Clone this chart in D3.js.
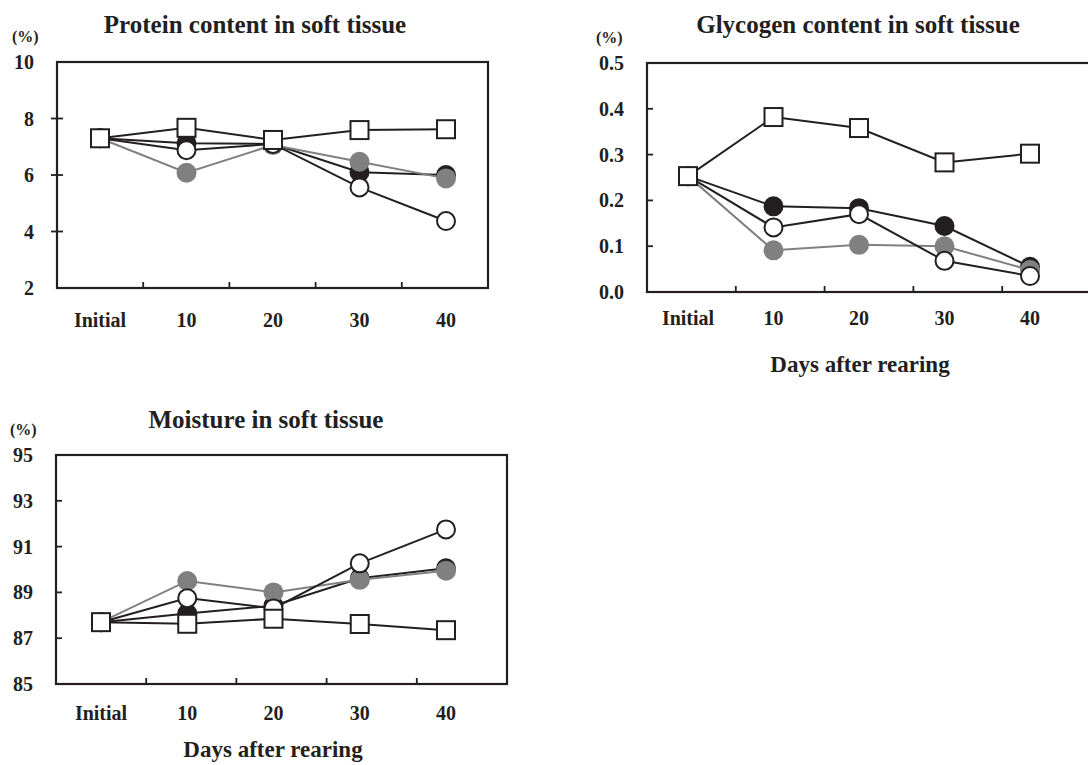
<!DOCTYPE html>
<html>
<head>
<meta charset="utf-8">
<script src="https://cdn.jsdelivr.net/npm/d3@7/dist/d3.min.js"></script>
<style>
  html, body { margin: 0; padding: 0; background: #fff; }
  svg { display: block; }
  text { font-family: "Liberation Serif", "Times New Roman", serif; font-weight: bold; fill: #231f20; }
</style>
</head>
<body>
<svg id="chart" width="1088" height="765"></svg>
<script>
// ---- Data ----
const categories = ["Initial", "10", "20", "30", "40"];

const proteinSquare = [7.30, 7.67, 7.24, 7.59, 7.62];
const proteinBlack  = [7.30, 7.12, 7.10, 6.10, 6.00];
const proteinOpen   = [7.30, 6.88, 7.10, 5.56, 4.37];
const proteinGray   = [7.30, 6.08, 7.06, 6.47, 5.88];
const proteinTicks  = [2, 4, 6, 8, 10];

const glycogenSquare = [0.253, 0.382, 0.358, 0.283, 0.302];
const glycogenBlack  = [0.253, 0.187, 0.183, 0.144, 0.055];
const glycogenOpen   = [0.253, 0.141, 0.170, 0.068, 0.035];
const glycogenGray   = [0.253, 0.091, 0.103, 0.100, 0.048];
const glycogenTicks  = [0.0, 0.1, 0.2, 0.3, 0.4, 0.5];

const moistureSquare = [87.70, 87.63, 87.85, 87.62, 87.35];
const moistureBlack  = [87.70, 88.08, 88.42, 89.62, 90.05];
const moistureOpen   = [87.70, 88.75, 88.30, 90.27, 91.75];
const moistureGray   = [87.70, 89.50, 89.00, 89.55, 89.95];
const moistureTicks  = [85, 87, 89, 91, 93, 95];

const titles = ["Protein content in soft tissue", "Glycogen content in soft tissue", "Moisture in soft tissue"];
const xAxisTitle = "Days after rearing";
const unitLabel = "(%)";

// ---- Styles ----
const INK = "#231f20";
const GRAY = "#808080";

const svg = d3.select("#chart");

function panel(cfg) {
  const g = svg.append("g");
  const xBand = d3.scaleBand(categories, [cfg.box.l, cfg.box.r]);
  const xPt = d3.scalePoint(categories, cfg.pts);
  const y = d3.scaleLinear(cfg.domain, [cfg.box.b, cfg.box.t]);

  // frame
  g.append("rect").attr("x", cfg.box.l).attr("y", cfg.box.t)
    .attr("width", cfg.box.r - cfg.box.l).attr("height", cfg.box.b - cfg.box.t)
    .attr("fill", "none").attr("stroke", INK).attr("stroke-width", 2.2);

  // y ticks
  const inner = cfg.ticks.slice(1, -1);
  g.selectAll(".yt").data(inner).join("line")
    .attr("x1", cfg.box.l - cfg.yTickOut).attr("x2", cfg.box.l + 6)
    .attr("y1", d => y(d)).attr("y2", d => y(d))
    .attr("stroke", INK).attr("stroke-width", 1.8);
  g.selectAll(".yl").data(cfg.ticks).join("text")
    .attr("x", cfg.box.l - 23).attr("y", d => y(d)).attr("dy", "0.35em")
    .attr("text-anchor", "end").attr("font-size", 20)
    .text(d => cfg.fmt(d));

  // x ticks (between categories)
  g.selectAll(".xt").data(categories.slice(1)).join("line")
    .attr("x1", d => xBand(d)).attr("x2", d => xBand(d))
    .attr("y1", cfg.box.b).attr("y2", cfg.box.b - 6)
    .attr("stroke", INK).attr("stroke-width", 1.8);
  g.selectAll(".xl").data(categories).join("text")
    .attr("x", d => xPt(d)).attr("y", cfg.xLabelY)
    .attr("text-anchor", "middle").attr("font-size", 20)
    .text(d => d);

  // title & unit
  g.append("text").attr("x", cfg.titleX).attr("y", cfg.titleY)
    .attr("text-anchor", "middle").attr("font-size", 25).text(cfg.title);
  g.append("text").attr("x", cfg.unitX).attr("y", cfg.unitY)
    .attr("font-size", 16).text(unitLabel);
  if (cfg.axisTitle) {
    g.append("text").attr("x", cfg.axisTitle.x).attr("y", cfg.axisTitle.y)
      .attr("text-anchor", "middle").attr("font-size", 23).text(xAxisTitle);
  }

  const line = d3.line().x((d, i) => xPt(categories[i])).y(d => y(d));
  const series = [
    { v: cfg.black,  line: INK,  type: "circle", fill: INK,   stroke: INK },
    { v: cfg.gray,   line: GRAY, type: "circle", fill: GRAY,  stroke: "none" },
    { v: cfg.open,   line: INK,  type: "circle", fill: "#fff", stroke: INK },
    { v: cfg.square, line: INK,  type: "square", fill: "#fff", stroke: INK }
  ];
  series.forEach(s => {
    const sg = g.append("g");
    sg.append("path").datum(s.v).attr("d", line)
      .attr("fill", "none").attr("stroke", s.line).attr("stroke-width", 2);
    if (s.type === "circle") {
      sg.selectAll("circle").data(s.v).join("circle")
        .attr("cx", (d, i) => xPt(categories[i])).attr("cy", d => y(d))
        .attr("r", s.stroke === "none" ? 10 : 9)
        .attr("fill", s.fill).attr("stroke", s.stroke).attr("stroke-width", 2);
    } else {
      sg.selectAll("rect").data(s.v).join("rect")
        .attr("x", (d, i) => xPt(categories[i]) - 9).attr("y", d => y(d) - 9)
        .attr("width", 18).attr("height", 18)
        .attr("fill", s.fill).attr("stroke", s.stroke).attr("stroke-width", 2);
    }
  });
}

panel({
  box: { l: 57, r: 488, t: 62, b: 288 }, pts: [100, 446],
  domain: [2, 10], ticks: proteinTicks, fmt: d3.format("d"), yTickOut: 6,
  xLabelY: 327, title: titles[0], titleX: 255, titleY: 33, unitX: 12, unitY: 42,
  square: proteinSquare, black: proteinBlack, open: proteinOpen, gray: proteinGray
});
panel({
  box: { l: 647, r: 1091, t: 63, b: 292 }, pts: [688, 1030],
  domain: [0, 0.5], ticks: glycogenTicks, fmt: d3.format(".1f"), yTickOut: 0,
  xLabelY: 325, title: titles[1], titleX: 858, titleY: 33, unitX: 596, unitY: 43,
  axisTitle: { x: 860, y: 372 },
  square: glycogenSquare, black: glycogenBlack, open: glycogenOpen, gray: glycogenGray
});
panel({
  box: { l: 56, r: 507, t: 455, b: 684 }, pts: [101, 446],
  domain: [85, 95], ticks: moistureTicks, fmt: d3.format("d"), yTickOut: 0,
  xLabelY: 720, title: titles[2], titleX: 266, titleY: 428, unitX: 10, unitY: 435,
  axisTitle: { x: 273, y: 757 },
  square: moistureSquare, black: moistureBlack, open: moistureOpen, gray: moistureGray
});
</script>
</body>
</html>
